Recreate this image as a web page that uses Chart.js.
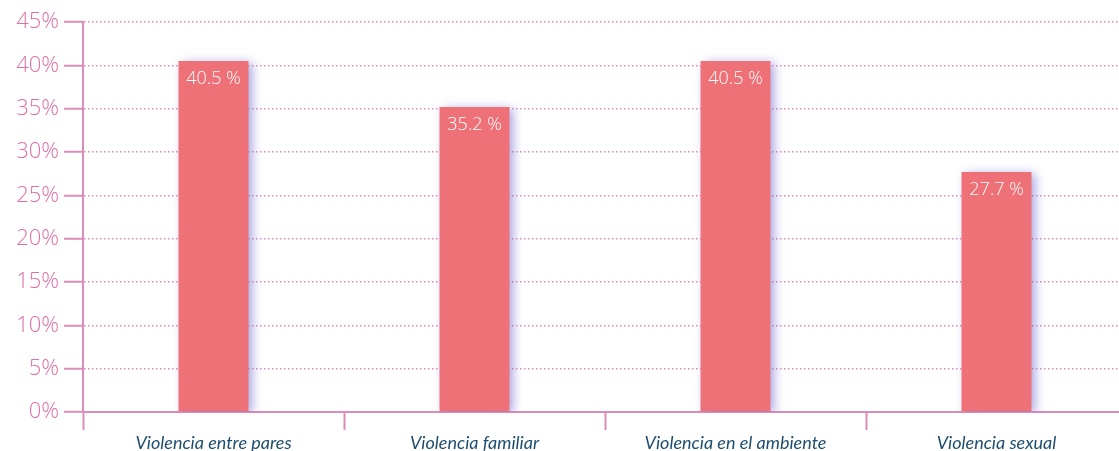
<!DOCTYPE html>
<html lang="es">
<head>
    <meta charset="UTF-8">
    <script src="https://cdn.jsdelivr.net/npm/chart.js"></script>
    <title>Tipos de violencia</title>
    <style>
        html, body {
            margin: 0;
            padding: 0;
            overflow: hidden;
            background: #ffffff;
        }
        #wrap {
            width: 1127px;
            height: 451px;
        }
    </style>
</head>
<body>
    <div id="wrap"><canvas id="violence-chart"></canvas></div>

    <script>
        const categories = ['Violencia entre pares', 'Violencia familiar', 'Violencia en el ambiente', 'Violencia sexual'];
        const percentages = [40.5, 35.2, 40.5, 27.7];
        const yTicks = [0, 5, 10, 15, 20, 25, 30, 35, 40, 45];

        const pink = '#dc8cb8';
        const barColor = '#ef7178';

        // sombra lila a la derecha de cada barra
        const barShadow = {
            id: 'barShadow',
            beforeDatasetsDraw(chart) {
                const ctx = chart.ctx;
                ctx.save();
                ctx.shadowColor = 'rgba(110, 100, 205, 0.6)';
                ctx.shadowBlur = 10;
                ctx.shadowOffsetX = 4;
                ctx.shadowOffsetY = 2;
            },
            afterDatasetsDraw(chart) {
                chart.ctx.restore();
            }
        };

        // etiqueta con el valor dentro de la barra
        const valueLabels = {
            id: 'valueLabels',
            afterDatasetsDraw(chart) {
                const ctx = chart.ctx;
                const meta = chart.getDatasetMeta(0);
                ctx.save();
                ctx.fillStyle = '#ffffff';
                ctx.font = '300 18px "Open Sans", sans-serif';
                ctx.textAlign = 'center';
                ctx.textBaseline = 'middle';
                meta.data.forEach((bar, i) => {
                    ctx.fillText(percentages[i].toFixed(1) + ' %', bar.x, bar.y + 18);
                });
                ctx.restore();
            }
        };

        const ctx = document.getElementById('violence-chart');

        new Chart(ctx, {
            type: 'bar',
            data: {
                labels: categories,
                datasets: [{
                    data: percentages,
                    backgroundColor: barColor,
                    borderWidth: 0,
                    barPercentage: 0.268,
                    categoryPercentage: 1
                }]
            },
            options: {
                responsive: true,
                maintainAspectRatio: false,
                animation: false,
                layout: { padding: { top: 22, right: 0, left: 0, bottom: 0 } },
                plugins: {
                    legend: { display: false },
                    tooltip: { enabled: false }
                },
                scales: {
                    x: {
                        grid: {
                            offset: true,
                            drawOnChartArea: false,
                            drawTicks: true,
                            tickLength: 18,
                            tickColor: pink,
                            tickWidth: 2
                        },
                        border: { color: pink, width: 2 },
                        ticks: {
                            color: '#1e4d6e',
                            padding: 2,
                            font: { family: 'Lato, sans-serif', size: 18, style: 'italic' }
                        },
                        afterFit(scale) { scale.height = 39; }
                    },
                    y: {
                        min: 0,
                        max: 45,
                        afterBuildTicks(scale) {
                            scale.ticks = yTicks.map(v => ({ value: v }));
                        },
                        grid: {
                            color: pink,
                            lineWidth: 1.5,
                            tickLength: 19,
                            tickColor: pink,
                            tickWidth: 2
                        },
                        border: { color: pink, width: 2, dash: [1.5, 2.5] },
                        ticks: {
                            color: '#dd70a6',
                            padding: 5,
                            font: { family: '"Open Sans", sans-serif', size: 22, weight: '300' },
                            callback: v => v + '%'
                        },
                        afterFit(scale) { scale.width = 83; }
                    }
                }
            },
            plugins: [barShadow, valueLabels]
        });
    </script>
</body>
</html>
